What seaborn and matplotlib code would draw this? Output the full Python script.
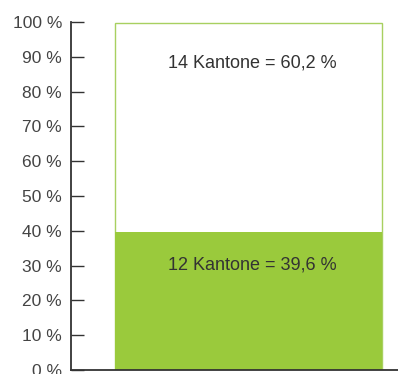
import pandas as pd
import seaborn as sns
import matplotlib.pyplot as plt

groups = ['12 Kantone', '14 Kantone']
shares = [39.6, 60.2]
labels = ['12 Kantone = 39,6 %', '14 Kantone = 60,2 %']
yticks = [0, 10, 20, 30, 40, 50, 60, 70, 80, 90, 100]

sns.set_style('white')
plt.rcParams['font.family'] = ['Liberation Sans', 'DejaVu Sans']

green = '#9aca3c'
dark = '#333333'

fig = plt.figure(figsize=(3.98, 3.74), dpi=100)
ax = fig.add_axes([71 / 398, 4 / 374, 327 / 398, 348 / 374])

total = shares[0] + shares[1]
df = pd.DataFrame({'cat': ['Kantone'], 'total': [total], 'low': [shares[0]]})

# upper part: full bar, white with thin green outline
sns.barplot(data=df, x='cat', y='total', color='white', edgecolor='#a8d060',
            linewidth=1, width=0.8, saturation=1, ax=ax)
# lower part: green
sns.barplot(data=df, x='cat', y='low', color=green, linewidth=0,
            width=0.8, saturation=1, ax=ax)

ax.text(0.01, shares[0] - 9.5, labels[0], ha='center', va='center', fontsize=13, color=dark)
ax.text(0.01, total - 11.5, labels[1], ha='center', va='center', fontsize=13, color=dark)

ax.set_xlim(-0.532, 0.448)
ax.set_ylim(0, 100)
ax.set_yticks(yticks)
ax.set_yticklabels([f'{t} %' for t in yticks], fontsize=12.5, color='#444444')
ax.set_xticks([])
ax.set_xlabel('')
ax.set_ylabel('')
ax.tick_params(axis='y', direction='in', length=9.5, width=1, color=dark, pad=6.5, left=True)
sns.despine(ax=ax, top=True, right=True)
for s in ['left', 'bottom']:
    ax.spines[s].set_color(dark)
    ax.spines[s].set_linewidth(1.3)
ax.spines['left'].set_bounds(0, 100)

fig.savefig('out.png', dpi=100)
